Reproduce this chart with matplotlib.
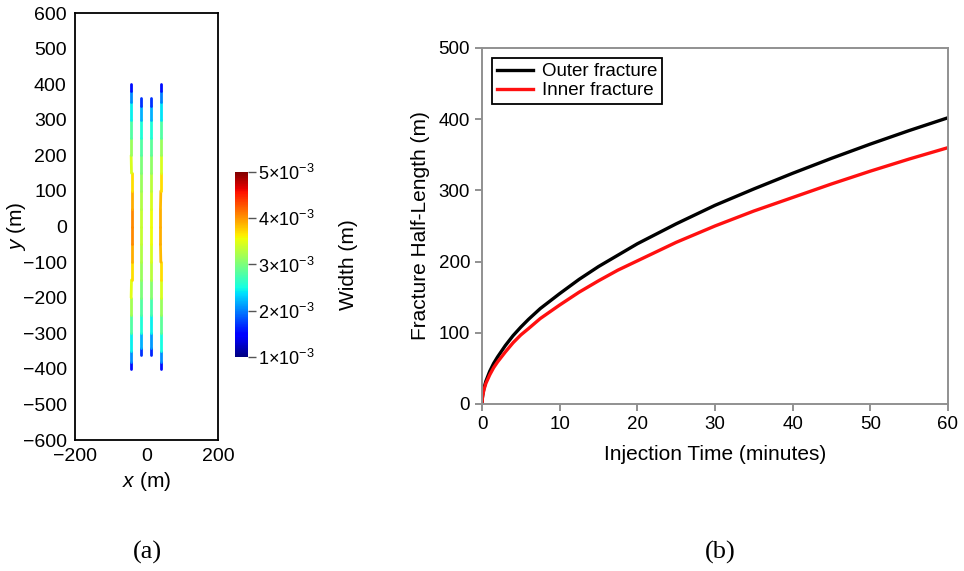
import numpy as np
import matplotlib
matplotlib.use("Agg")
import matplotlib.pyplot as plt
from matplotlib.collections import LineCollection
from matplotlib.colors import Normalize

plt.rcParams['font.family'] = ['Liberation Sans', 'DejaVu Sans']
plt.rcParams['mathtext.fontset'] = 'custom'
plt.rcParams['mathtext.rm'] = 'Liberation Sans'
plt.rcParams['mathtext.it'] = 'Liberation Sans:italic'

###DATA###
# (a) fracture geometry and width profiles (m)
y_outer = [-400, -380, -350, -300, -250, -200, -150, -100, -50, 0,
           50, 100, 150, 200, 250, 300, 350, 380, 400]
y_inner = [-360, -340, -300, -250, -200, -150, -100, -50, 0,
           50, 100, 150, 200, 250, 300, 340, 360]

x_outer_left = [-43, -43, -43, -43, -43, -43, -42, -42, -42, -42,
                -42, -42, -42, -43, -43, -43, -43, -43, -43]
x_inner_left = [-16, -16, -16, -16, -16, -16, -16, -16, -16,
                -16, -16, -16, -16, -16, -16, -16, -16]
x_inner_right = [13, 13, 13, 13, 13, 13, 13, 13, 13,
                 13, 13, 13, 13, 13, 13, 13, 13]
x_outer_right = [40, 40, 40, 40, 40, 40, 40, 40, 39, 39,
                 39, 40, 40, 40, 40, 40, 40, 40, 40]

w_outer_left = [1.3e-3, 1.8e-3, 2.3e-3, 2.6e-3, 3.0e-3, 3.4e-3, 3.6e-3, 3.8e-3, 4.0e-3, 4.1e-3,
                4.0e-3, 3.8e-3, 3.6e-3, 3.3e-3, 3.0e-3, 2.6e-3, 2.3e-3, 1.8e-3, 1.3e-3]
w_inner_left = [1.4e-3, 2.0e-3, 2.4e-3, 2.7e-3, 2.9e-3, 3.1e-3, 3.2e-3, 3.3e-3, 3.4e-3,
                3.3e-3, 3.2e-3, 3.1e-3, 2.9e-3, 2.7e-3, 2.4e-3, 2.0e-3, 1.4e-3]
w_inner_right = [1.4e-3, 1.9e-3, 2.3e-3, 2.6e-3, 2.9e-3, 3.2e-3, 3.4e-3, 3.5e-3, 3.6e-3,
                 3.5e-3, 3.4e-3, 3.2e-3, 3.0e-3, 2.7e-3, 2.4e-3, 2.0e-3, 1.4e-3]
w_outer_right = [1.3e-3, 1.8e-3, 2.3e-3, 2.7e-3, 3.0e-3, 3.3e-3, 3.6e-3, 3.8e-3, 3.9e-3, 3.9e-3,
                 3.9e-3, 3.8e-3, 3.6e-3, 3.3e-3, 3.0e-3, 2.6e-3, 2.2e-3, 1.8e-3, 1.3e-3]

cbar_ticks = [1e-3, 2e-3, 3e-3, 4e-3, 5e-3]
cbar_labels = [r'$1{\times}10^{-3}$', r'$2{\times}10^{-3}$', r'$3{\times}10^{-3}$',
               r'$4{\times}10^{-3}$', r'$5{\times}10^{-3}$']

# (b) half-length vs injection time
t_min = [0, 0.05, 0.1, 0.25, 0.5, 1, 1.5, 2, 3, 4, 5, 6, 7.5, 10, 12.5, 15, 17.5,
         20, 25, 30, 35, 40, 45, 50, 55, 60]
outer_len = [0, 9, 13, 22, 32, 46, 57, 66, 82, 96, 108, 119, 134, 155, 175, 193, 209,
             225, 253, 279, 302, 324, 345, 365, 384, 402]
inner_len = [0, 8, 12, 20, 29, 41, 51, 59, 73, 86, 97, 106, 120, 139, 157, 173, 188,
             201, 227, 250, 271, 290, 309, 327, 344, 360]

###FIGURE###
fig = plt.figure(figsize=(9.64, 5.71), dpi=100)

# panel (a)
ax1 = fig.add_axes([0.0778, 0.2294, 0.1484, 0.7477])
norm = Normalize(vmin=1e-3, vmax=5e-3)
fracs = [(x_outer_left, y_outer, w_outer_left),
         (x_inner_left, y_inner, w_inner_left),
         (x_inner_right, y_inner, w_inner_right),
         (x_outer_right, y_outer, w_outer_right)]
for xs, ys, ws in fracs:
    pts = np.column_stack([xs, ys])
    segs = np.stack([pts[:-1], pts[1:]], axis=1)
    wmid = (np.array(ws[:-1]) + np.array(ws[1:])) / 2
    lc = LineCollection(segs, cmap='jet', norm=norm, linewidths=2.0, capstyle='round')
    lc.set_array(wmid)
    ax1.add_collection(lc)
ax1.set_xlim(-200, 200)
ax1.set_ylim(-600, 600)
ax1.set_xticks([-200, 0, 200])
ax1.set_yticks(range(-600, 601, 100))
ax1.tick_params(length=0, labelsize=14, pad=6)
for s in ax1.spines.values():
    s.set_linewidth(1.3)
ax1.set_xlabel(r'$x$ (m)', fontsize=15, labelpad=3)
ax1.set_ylabel(r'$y$ (m)', fontsize=15)
ax1.yaxis.set_label_coords(-0.33, 0.5)

# colorbar
cax = fig.add_axes([0.2438, 0.3748, 0.0135, 0.324])
sm = plt.cm.ScalarMappable(norm=norm, cmap='jet')
cb = fig.colorbar(sm, cax=cax, ticks=cbar_ticks)
cb.ax.set_yticklabels(cbar_labels)
cb.outline.set_visible(False)
cb.ax.tick_params(length=6, width=1, color='#555555', labelsize=13, pad=1)
cb.set_label('Width (m)', fontsize=15, labelpad=18)

# panel (b)
ax2 = fig.add_axes([0.5, 0.2925, 0.4834, 0.6235])
ax2.plot(t_min, outer_len, color='black', lw=2.4, label='Outer fracture')
ax2.plot(t_min, inner_len, color='#ff1010', lw=2.4, label='Inner fracture')
ax2.set_xlim(0, 60)
ax2.set_ylim(0, 500)
ax2.set_xticks(range(0, 61, 10))
ax2.set_yticks(range(0, 501, 100))
for s in ax2.spines.values():
    s.set_color('#909090')
    s.set_linewidth(1.4)
ax2.tick_params(direction='out', length=5, width=1.4, color='#909090', labelsize=13.5)
ax2.set_xlabel('Injection Time (minutes)', fontsize=15, labelpad=9)
ax2.set_ylabel('Fracture Half-Length (m)', fontsize=15, labelpad=6)
leg = ax2.legend(loc='upper left', fontsize=13.5, fancybox=False, framealpha=1,
                 edgecolor='black', handlelength=1.9, borderpad=0.25,
                 labelspacing=0.1, handletextpad=0.5, borderaxespad=0.55)
leg.get_frame().set_linewidth(1.3)

# panel labels
fig.text(0.153, 0.022, '(a)', fontsize=19, family='Liberation Serif', ha='center')
fig.text(0.747, 0.022, '(b)', fontsize=19, family='Liberation Serif', ha='center')

fig.savefig('out.png', dpi=100)
